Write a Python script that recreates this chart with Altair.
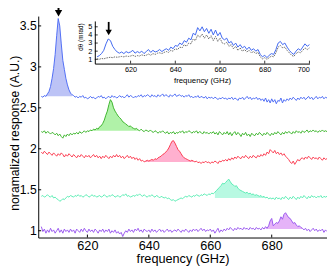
import altair as alt
import pandas as pd

# ------------------------------------------------------------------ data
# main traces: sampled every 0.5 GHz starting at 605 GHz
freq_start = 605.0
freq_step = 0.5

blue = [
    2.64, 2.63, 2.65, 2.64, 2.67, 2.70, 2.76, 2.86, 2.98, 3.15,
    3.38, 3.59, 3.50, 3.28, 3.08, 2.97, 2.86, 2.78, 2.72, 2.68,
    2.66, 2.65, 2.63, 2.64, 2.62, 2.64, 2.63, 2.65, 2.62, 2.63,
    2.61, 2.62, 2.64, 2.62, 2.63, 2.61, 2.62, 2.64, 2.63, 2.65,
    2.62, 2.63, 2.61, 2.63, 2.64, 2.62, 2.65, 2.63, 2.64, 2.62,
    2.63, 2.65, 2.63, 2.64, 2.62, 2.64, 2.66, 2.63, 2.65, 2.64,
    2.62, 2.64, 2.63, 2.65, 2.64, 2.66, 2.63, 2.65, 2.64, 2.66,
    2.65, 2.63, 2.66, 2.64, 2.65, 2.63, 2.66, 2.64, 2.65, 2.67,
    2.64, 2.66, 2.65, 2.63, 2.66, 2.64, 2.65, 2.67, 2.64, 2.65,
    2.66, 2.64, 2.65, 2.63, 2.65, 2.64, 2.66, 2.63, 2.64, 2.62,
    2.64, 2.63, 2.65, 2.62, 2.64, 2.63, 2.62, 2.64, 2.61, 2.63,
    2.62, 2.63, 2.61, 2.63, 2.62, 2.60, 2.62, 2.61, 2.63, 2.61,
    2.62, 2.60, 2.62, 2.61, 2.63, 2.60, 2.62, 2.61, 2.59, 2.62,
    2.61, 2.63, 2.60, 2.62, 2.64, 2.61, 2.63, 2.60, 2.62, 2.61,
    2.63, 2.60, 2.62, 2.59, 2.61, 2.58, 2.62, 2.57, 2.60, 2.56,
    2.61, 2.57, 2.60, 2.55, 2.59, 2.58, 2.62, 2.56, 2.60, 2.58,
    2.61, 2.59, 2.62, 2.60, 2.63, 2.61, 2.59, 2.62, 2.60, 2.63,
    2.61, 2.63, 2.60, 2.62, 2.64, 2.61, 2.63, 2.60, 2.62, 2.64,
    2.61, 2.63, 2.62, 2.64, 2.61, 2.63, 2.62,
]
green = [
    2.21, 2.20, 2.22, 2.19, 2.21, 2.20, 2.18, 2.20, 2.19, 2.17,
    2.19, 2.16, 2.18, 2.15, 2.13, 2.17, 2.15, 2.18, 2.16, 2.19,
    2.17, 2.19, 2.18, 2.20, 2.18, 2.21, 2.19, 2.20, 2.22, 2.20,
    2.22, 2.21, 2.23, 2.22, 2.24, 2.23, 2.25, 2.24, 2.27, 2.28,
    2.31, 2.35, 2.41, 2.46, 2.54, 2.60, 2.57, 2.50, 2.46, 2.43,
    2.40, 2.38, 2.36, 2.33, 2.32, 2.30, 2.29, 2.27, 2.28, 2.26,
    2.25, 2.24, 2.25, 2.23, 2.22, 2.24, 2.22, 2.21, 2.23, 2.22,
    2.21, 2.23, 2.21, 2.20, 2.22, 2.21, 2.19, 2.21, 2.20, 2.22,
    2.20, 2.19, 2.21, 2.18, 2.20, 2.19, 2.21, 2.18, 2.20, 2.19,
    2.21, 2.20, 2.22, 2.19, 2.21, 2.20, 2.22, 2.21, 2.19, 2.21,
    2.20, 2.22, 2.19, 2.21, 2.20, 2.18, 2.21, 2.19, 2.20, 2.18,
    2.20, 2.19, 2.21, 2.18, 2.20, 2.17, 2.21, 2.19, 2.17, 2.20,
    2.18, 2.21, 2.17, 2.20, 2.16, 2.19, 2.21, 2.17, 2.20, 2.18,
    2.15, 2.19, 2.17, 2.20, 2.16, 2.18, 2.15, 2.19, 2.17, 2.16,
    2.19, 2.17, 2.20, 2.18, 2.16, 2.19, 2.17, 2.20, 2.18, 2.16,
    2.19, 2.17, 2.20, 2.18, 2.21, 2.19, 2.17, 2.20, 2.18, 2.21,
    2.19, 2.21, 2.20, 2.18, 2.21, 2.19, 2.22, 2.20, 2.21, 2.19,
    2.22, 2.20, 2.21, 2.23, 2.20, 2.22, 2.21, 2.23, 2.21, 2.22,
    2.20, 2.22, 2.21, 2.23, 2.21, 2.22, 2.21,
]
red = [
    1.96, 1.94, 1.97, 1.95, 1.93, 1.96, 1.94, 1.92, 1.95, 1.93,
    1.91, 1.94, 1.92, 1.95, 1.93, 1.90, 1.93, 1.91, 1.94, 1.92,
    1.90, 1.93, 1.91, 1.89, 1.92, 1.90, 1.93, 1.91, 1.89, 1.92,
    1.90, 1.92, 1.89, 1.91, 1.93, 1.90, 1.92, 1.89, 1.91, 1.88,
    1.91, 1.89, 1.92, 1.90, 1.88, 1.91, 1.89, 1.92, 1.90, 1.93,
    1.90, 1.92, 1.89, 1.91, 1.88, 1.90, 1.92, 1.89, 1.91, 1.88,
    1.90, 1.87, 1.89, 1.86, 1.88, 1.85, 1.86, 1.84, 1.85, 1.86,
    1.85, 1.86, 1.87, 1.86, 1.88, 1.87, 1.89, 1.90, 1.91, 1.93,
    1.94, 1.96, 1.98, 2.01, 2.05, 2.09, 2.10, 2.07, 2.03, 1.99,
    1.97, 1.94, 1.91, 1.89, 1.88, 1.87, 1.86, 1.85, 1.86, 1.85,
    1.84, 1.85, 1.83, 1.84, 1.82, 1.84, 1.83, 1.85, 1.83, 1.84,
    1.82, 1.84, 1.83, 1.85, 1.84, 1.82, 1.85, 1.84, 1.86, 1.85,
    1.87, 1.85, 1.88, 1.86, 1.89, 1.87, 1.90, 1.88, 1.91, 1.89,
    1.88, 1.91, 1.89, 1.92, 1.90, 1.88, 1.91, 1.89, 1.92, 1.90,
    1.89, 1.92, 1.90, 1.93, 1.91, 1.94, 1.92, 1.96, 1.94, 1.99,
    1.97, 1.95, 1.98, 1.94, 1.96, 1.93, 1.95, 1.92, 1.94, 1.91,
    1.89, 1.87, 1.84, 1.82, 1.85, 1.81, 1.84, 1.87, 1.85, 1.88,
    1.89, 1.87, 1.90, 1.88, 1.91, 1.89, 1.87, 1.90, 1.88, 1.89,
    1.87, 1.90, 1.88, 1.86, 1.89, 1.87, 1.88,
]
cyan = [
    1.42, 1.43, 1.41, 1.42, 1.44, 1.42, 1.41, 1.43, 1.40, 1.41,
    1.39, 1.38, 1.36, 1.37, 1.39, 1.38, 1.40, 1.42, 1.41, 1.43,
    1.42, 1.41, 1.43, 1.42, 1.44, 1.42, 1.43, 1.41, 1.42, 1.44,
    1.43, 1.41, 1.42, 1.44, 1.42, 1.43, 1.41, 1.42, 1.43, 1.41,
    1.42, 1.44, 1.42, 1.41, 1.43, 1.42, 1.44, 1.43, 1.41, 1.42,
    1.43, 1.41, 1.42, 1.44, 1.43, 1.45, 1.42, 1.43, 1.41, 1.42,
    1.43, 1.42, 1.44, 1.43, 1.45, 1.43, 1.42, 1.44, 1.42, 1.41,
    1.43, 1.42, 1.44, 1.42, 1.41, 1.43, 1.42, 1.40, 1.42, 1.41,
    1.40, 1.41, 1.39, 1.40, 1.38, 1.37, 1.38, 1.36, 1.37, 1.38,
    1.39, 1.40, 1.39, 1.41, 1.42, 1.41, 1.43, 1.42, 1.41, 1.43,
    1.42, 1.44, 1.43, 1.42, 1.44, 1.43, 1.45, 1.44, 1.43, 1.45,
    1.44, 1.46, 1.45, 1.47, 1.49, 1.51, 1.53, 1.55, 1.58, 1.57,
    1.59, 1.61, 1.63, 1.60, 1.57, 1.56, 1.54, 1.55, 1.52, 1.50,
    1.49, 1.48, 1.47, 1.46, 1.47, 1.45, 1.46, 1.44, 1.45, 1.43,
    1.44, 1.43, 1.42, 1.43, 1.41, 1.42, 1.40, 1.41, 1.39, 1.40,
    1.39, 1.40, 1.38, 1.41, 1.39, 1.40, 1.38, 1.41, 1.39, 1.42,
    1.40, 1.38, 1.41, 1.39, 1.42, 1.40, 1.38, 1.41, 1.39, 1.42,
    1.40, 1.43, 1.41, 1.39, 1.42, 1.40, 1.43, 1.41, 1.42, 1.40,
    1.42, 1.41, 1.43, 1.40, 1.42, 1.41, 1.42,
]
purple = [
    1.05, 0.99, 1.02, 0.97, 1.01, 0.98, 1.03, 0.99, 1.01, 0.97,
    1.00, 1.03, 0.98, 1.01, 0.97, 1.02, 0.99, 1.01, 0.98, 1.02,
    0.99, 1.01, 0.97, 1.02, 1.00, 0.98, 1.02, 0.99, 1.03, 1.00,
    0.98, 1.02, 0.99, 1.01, 0.98, 1.02, 1.00, 0.97, 1.01, 0.99,
    1.02, 0.98, 1.01, 0.99, 1.02, 0.97, 1.00, 0.98, 1.01, 0.97,
    0.99, 0.96, 0.98, 0.93, 0.97, 1.00, 0.98, 1.02, 0.99, 1.01,
    0.98, 1.02, 1.00, 1.03, 0.99, 1.01, 0.98, 1.02, 1.00, 0.99,
    1.01, 0.98, 1.02, 0.99, 1.01, 0.98, 1.00, 1.02, 0.99, 1.01,
    0.98, 1.00, 1.02, 0.99, 1.01, 0.98, 1.00, 1.01, 0.99, 1.02,
    1.00, 0.98, 1.01, 0.99, 1.02, 1.00, 0.98, 1.01, 0.99, 1.02,
    1.00, 1.02, 0.99, 1.01, 1.03, 1.00, 1.02, 0.99, 1.01, 1.00,
    1.02, 0.99, 1.01, 0.97, 1.00, 1.03, 0.98, 1.01, 0.99, 1.02,
    1.00, 1.03, 1.01, 1.04, 1.02, 1.00, 1.03, 1.01, 1.04, 1.02,
    1.03, 1.01, 1.04, 1.02, 1.03, 1.01, 1.04, 1.02, 1.03, 1.01,
    1.04, 1.02, 1.03, 1.01, 1.04, 1.02, 1.05, 1.03, 1.06, 1.12,
    1.15, 1.06, 1.08, 1.10, 1.09, 1.12, 1.17, 1.14, 1.20, 1.22,
    1.19, 1.16, 1.15, 1.12, 1.09, 1.10, 1.07, 1.05, 1.06, 1.04,
    1.03, 1.01, 1.03, 1.00, 1.02, 0.99, 1.01, 1.03, 1.00, 1.02,
    0.99, 1.01, 1.00, 1.02, 0.98, 1.01, 0.99,
]

series_names = ["blue", "green", "red", "cyan", "purple"]
series_values = [blue, green, red, cyan, purple]
line_colors = ["#4f6df5", "#3db52c", "#fb3c50", "#5cecb4", "#9a58ef"]
fill_colors = ["#bcc3f6", "#b0f2a8", "#ffb0cf", "#b8f9e2", "#e5b3f8"]
fill_start = [605.5, 620.0, 638.5, 661.5, 678.0]
fill_end = [615.0, 636.5, 654.5, 680.5, 690.0]
fill_base = [2.64, 2.22, 1.84, 1.40, 1.02]

# inset traces: sampled every 1 GHz starting at 605 GHz
inset_start = 605.0
inset_step = 1.0
inset_signal = [
    1.30, 1.45, 1.70, 2.10, 2.90, 3.50, 3.30, 2.60, 2.20, 1.90,
    1.75, 1.90, 1.70, 1.95, 1.80, 1.90, 2.10, 1.75, 1.95, 1.80,
    2.00, 1.70, 1.95, 2.20, 1.85, 2.10, 1.90, 2.00, 2.20, 1.95,
    2.15, 2.30, 2.10, 2.50, 2.30, 2.70, 2.60, 3.00, 2.80, 3.30,
    3.10, 3.60, 3.40, 4.20, 4.00, 4.90, 4.50, 5.00, 4.40, 4.80,
    4.20, 4.70, 4.00, 4.60, 3.90, 4.30, 3.60, 3.40, 3.60, 3.00,
    3.20, 2.70, 3.00, 2.50, 2.80, 2.40, 2.60, 2.20, 2.50, 2.10,
    2.30, 2.00, 2.20, 1.60, 1.30, 1.50, 1.20, 1.50, 1.70, 1.60,
    2.20, 3.00, 3.20, 2.80, 3.00, 2.50, 2.10, 1.80, 1.60, 2.00,
    2.30, 2.10, 2.50, 2.90, 2.60, 2.80,
]
inset_reference = [
    1.05, 1.00, 1.10, 1.05, 1.15, 1.20, 1.25, 1.20, 1.30, 1.25,
    1.30, 1.35, 1.30, 1.40, 1.35, 1.40, 1.50, 1.35, 1.45, 1.40,
    1.55, 1.45, 1.50, 1.65, 1.50, 1.70, 1.60, 1.75, 1.80, 1.70,
    1.85, 1.95, 1.85, 2.10, 2.00, 2.30, 2.20, 2.50, 2.40, 2.80,
    2.60, 3.00, 2.90, 3.50, 3.30, 4.00, 3.70, 4.10, 3.60, 4.00,
    3.50, 3.90, 3.30, 3.80, 3.20, 3.60, 3.00, 2.90, 3.10, 2.60,
    2.80, 2.30, 2.60, 2.10, 2.40, 2.00, 2.20, 1.90, 2.10, 1.80,
    1.95, 1.70, 1.85, 1.30, 1.05, 1.20, 1.00, 1.20, 1.40, 1.30,
    1.80, 2.50, 2.70, 2.40, 2.50, 2.10, 1.80, 1.50, 1.35, 1.70,
    1.90, 1.80, 2.10, 2.40, 2.20, 2.40,
]

main_x_ticks = [620, 640, 660, 680]
main_y_ticks = [1, 1.5, 2, 2.5, 3, 3.5]
inset_x_ticks = [620, 640, 660, 680, 700]
inset_y_ticks = [1, 2, 3, 4, 5]

# arrows marking the first peak (frequency, head level, shaft top, shaft bottom)
main_arrow = {"f": 610.6, "head": 3.655, "top": 3.76, "bottom": 3.66}
inset_arrow = {"f": 610.2, "head": 4.3, "top": 5.6, "bottom": 4.5}

# ------------------------------------------------------------------ layout
PAD_L = 31
W, H = 296, 227
X_DOM = [604, 698]
Y_DOM = [0.917, 3.62]
IX_DOM = [604, 700]
IY_DOM = [0.47, 5.72]
IX_RANGE = [58, 278]
IY_RANGE = [48.7, 5]
FONT = "Liberation Sans"

rows = []
for name, vals in zip(series_names, series_values):
    for i, v in enumerate(vals):
        rows.append({"s": name, "f": freq_start + freq_step * i, "v": v})
df = pd.DataFrame(rows)

# ------------------------------------------------------------------ main panel
xs = alt.Scale(domain=X_DOM, nice=False, zero=False)
ys = alt.Scale(domain=Y_DOM, nice=False, zero=False)

x_axis = alt.Axis(orient="bottom", values=main_x_ticks, ticks=False, tickSize=0,
                  labelFontSize=13, labelPadding=2, title="frequency (GHz)",
                  titleFontSize=13, titleY=26, titleBaseline="alphabetic")
y_axis = alt.Axis(orient="left", values=main_y_ticks, ticks=False, tickSize=0,
                  format="~g", labelFontSize=12.5, labelPadding=2,
                  title="noramalized response (A.U.)", titleFontSize=12.5,
                  titleAngle=270, titleX=-20.5, titleY=119.5,
                  titleBaseline="alphabetic", titleAlign="center")

X = alt.X("f:Q", scale=xs, axis=x_axis)
Y = alt.Y("v:Q", scale=ys, axis=y_axis)

area_layers = []
line_layers = []
for name, lc, fc, a, b, base in zip(series_names, line_colors, fill_colors,
                                    fill_start, fill_end, fill_base):
    sub = df[df.s == name]
    seg = sub[(sub.f >= a) & (sub.f <= b)].copy()
    seg["base"] = base
    area_layers.append(
        alt.Chart(seg).mark_area(color=fc, fill=fc, opacity=1, fillOpacity=1,
                                 strokeWidth=0).encode(x=X, y=Y, y2="base:Q"))
    line_layers.append(
        alt.Chart(sub).mark_line(color=lc, strokeWidth=1).encode(x=X, y=Y))

tx = (X_DOM[1] - X_DOM[0]) * 3 / W
ty = (Y_DOM[1] - Y_DOM[0]) * 3 / H
yt = pd.DataFrame({"v": main_y_ticks, "f": X_DOM[0], "f2": X_DOM[0] + tx})
xt = pd.DataFrame({"f": main_x_ticks, "v": Y_DOM[0], "v2": Y_DOM[0] + ty})
ytick = alt.Chart(yt).mark_rule(color="black", strokeWidth=1).encode(x=X, x2="f2:Q", y=Y)
xtick = alt.Chart(xt).mark_rule(color="black", strokeWidth=1).encode(x=X, y=Y, y2="v2:Q")

ma = pd.DataFrame([main_arrow])
m_shaft = alt.Chart(ma).mark_rule(color="black", strokeWidth=2).encode(
    x=alt.X("f:Q", scale=xs, axis=x_axis),
    y=alt.Y("top:Q", scale=ys, axis=y_axis), y2="bottom:Q")
m_head = alt.Chart(ma).mark_point(shape="triangle-down", filled=True, color="black",
                                  size=56, opacity=1).encode(
    x=alt.X("f:Q", scale=xs, axis=x_axis),
    y=alt.Y("head:Q", scale=ys, axis=y_axis))

main = alt.layer(*area_layers, *line_layers, ytick, xtick, m_shaft, m_head)

# ------------------------------------------------------------------ inset
inset_rows = []
for name, vals in [("signal", inset_signal), ("reference", inset_reference)]:
    for i, v in enumerate(vals):
        inset_rows.append({"s": name, "f": inset_start + inset_step * i, "v": v})
df_inset = pd.DataFrame(inset_rows)

ixs = alt.Scale(domain=IX_DOM, range=IX_RANGE, nice=False, zero=False)
iys = alt.Scale(domain=IY_DOM, range=IY_RANGE, nice=False, zero=False)
ix_axis = alt.Axis(orient="bottom", offset=-(H - IY_RANGE[0]), values=inset_x_ticks,
                   ticks=False, tickSize=0, labelFontSize=7.5, labelPadding=2,
                   title="frequency (GHz)", titleFontSize=8, titleY=19,
                   titleBaseline="alphabetic")
iy_axis = alt.Axis(orient="left", offset=-IX_RANGE[0], values=inset_y_ticks,
                   ticks=False, tickSize=0, labelFontSize=7.5, labelPadding=3,
                   title="dθ (mrad)", titleFontSize=6.5, titleAngle=270,
                   titleX=-13, titleY=21, titleBaseline="alphabetic",
                   titleAlign="center")
IX = alt.X("f:Q", scale=ixs, axis=ix_axis)
IY = alt.Y("v:Q", scale=iys, axis=iy_axis)

i_ref = alt.Chart(df_inset[df_inset.s == "reference"]).mark_line(
    color="#444444", strokeWidth=0.8, strokeDash=[1.5, 1]).encode(x=IX, y=IY)
i_sig = alt.Chart(df_inset[df_inset.s == "signal"]).mark_line(
    color="#3f67f0", strokeWidth=1).encode(x=IX, y=IY)

itx = (IX_DOM[1] - IX_DOM[0]) * 3 / (IX_RANGE[1] - IX_RANGE[0])
ity = (IY_DOM[1] - IY_DOM[0]) * 3 / (IY_RANGE[0] - IY_RANGE[1])
iyt = pd.DataFrame({"v": inset_y_ticks, "f": IX_DOM[0], "f2": IX_DOM[0] + itx})
ixt = pd.DataFrame({"f": inset_x_ticks, "v": IY_DOM[0], "v2": IY_DOM[0] + ity})
iytick = alt.Chart(iyt).mark_rule(color="black", strokeWidth=0.8).encode(x=IX, x2="f2:Q", y=IY)
ixtick = alt.Chart(ixt).mark_rule(color="black", strokeWidth=0.8).encode(x=IX, y=IY, y2="v2:Q")

ia = pd.DataFrame([inset_arrow])
i_shaft = alt.Chart(ia).mark_rule(color="black", strokeWidth=1.8).encode(
    x=alt.X("f:Q", scale=ixs, axis=ix_axis),
    y=alt.Y("top:Q", scale=iys, axis=iy_axis), y2="bottom:Q")
i_head = alt.Chart(ia).mark_point(shape="triangle-down", filled=True, color="black",
                                  size=42, opacity=1).encode(
    x=alt.X("f:Q", scale=ixs, axis=ix_axis),
    y=alt.Y("head:Q", scale=iys, axis=iy_axis))

inset = alt.layer(i_ref, i_sig, iytick, ixtick, i_shaft, i_head)

chart = alt.layer(main, inset).resolve_scale(
    x="independent", y="independent"
).properties(
    width=W, height=H,
    padding={"left": PAD_L, "top": 5, "right": 0, "bottom": 30},
    autosize=alt.AutoSizeParams(type="none"),
).configure_view(stroke=None).configure_axis(
    labelFont=FONT, titleFont=FONT, labelColor="black", titleColor="black",
    titleFontWeight="normal", domainColor="black", domainWidth=1, grid=False,
)

chart.save("out.html", embed_options={"renderer": "svg", "actions": False})
